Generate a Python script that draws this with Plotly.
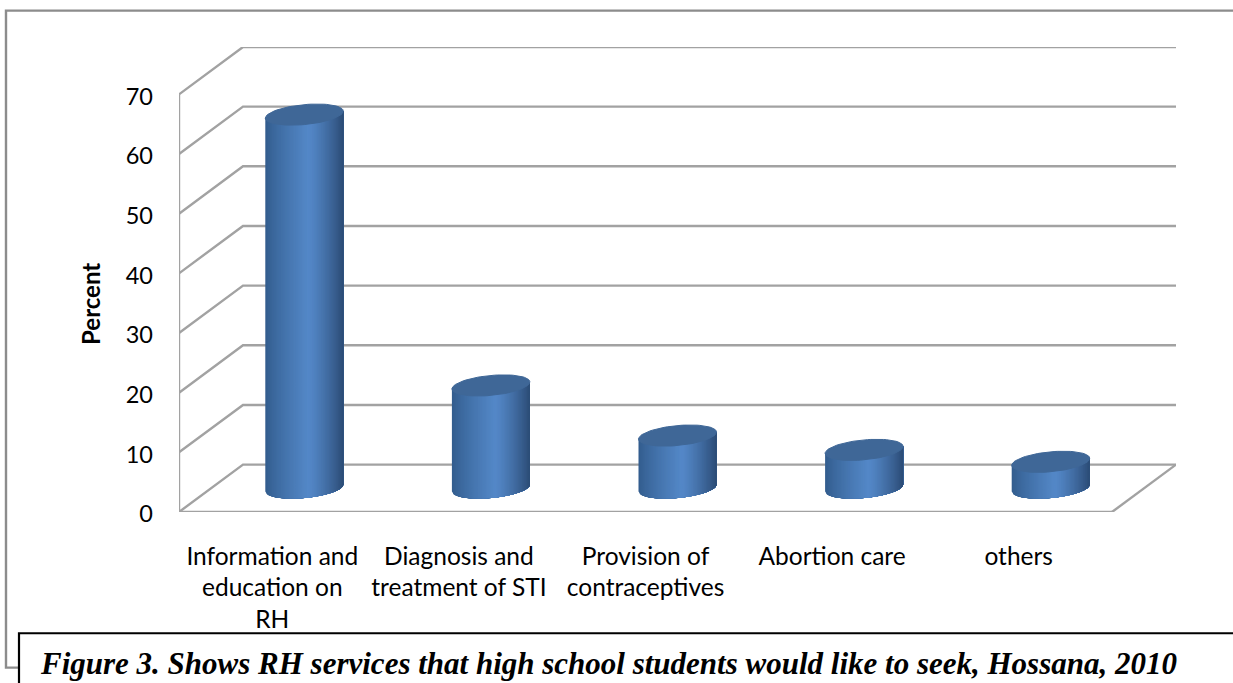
import plotly.graph_objects as go
import numpy as np

categories = ["Information and<br>education on<br>RH", "Diagnosis and<br>treatment of STI",
              "Provision of<br>contraceptives", "Abortion care", "others"]
values = [62.6, 17.2, 8.8, 6.4, 4.4]
y_ticks = [0, 10, 20, 30, 40, 50, 60, 70]
y_title = "Percent"
caption = "Figure 3. Shows RH services that high school students would like to seek, Hossana, 2010"

W, H = 1233, 683
L, R, T, B = 179, 1112, 94, 512.5
px_x = (R - L) / 5
px_y = (B - T) / 70
depth_x = 64 / px_x
depth_y = 47.5 / px_y
a = 39 / px_x
b = 10 / px_y
s = 3.5 / px_y
cx_off = 32 / px_x
base_y = 24 / px_y
GRAY = "#a2a2a2"
x_hi = 4.5 + depth_x
y_hi = 70 + depth_y
PR, PT = R + 64, T - 47.5

def paper(px, py):
    return (px - L) / (PR - L), (B - py) / (B - PT)

fig = go.Figure()

# 3D wall and floor
gx, gy = [], []
for t in y_ticks:
    gx += [-0.5, -0.5 + depth_x, x_hi, None]
    gy += [t, t + depth_y, t + depth_y, None]
gx += [4.5, x_hi, None, -0.5, 4.5, None, -0.5, -0.5, None]
gy += [0, depth_y, None, 0, 0, None, 0, 70, None]
fig.add_trace(go.Scatter(x=gx, y=gy, mode="lines", line=dict(color=GRAY, width=2.4),
                         cliponaxis=False, hoverinfo="skip", showlegend=False))

def lerp(c1, c2, f):
    return tuple(c1[i] + (c2[i] - c1[i]) * f for i in range(3))

def shade(u):
    left, mid, right = (50, 92, 140), (84, 136, 200), (44, 76, 118)
    if u < 0.55:
        c = lerp(left, mid, (u / 0.55) ** 0.8)
    else:
        c = lerp(mid, right, ((u - 0.55) / 0.45) ** 1.3)
    return "rgb(%d,%d,%d)" % c

# cylinder sides: painter's gradient, each band runs from its left edge to the right side
N = 60
edges = np.linspace(0, 1, N + 1)
for k in range(N):
    c0 = -1 + 2 * edges[k]
    xs, ys = [], []
    for i, v in enumerate(values):
        cx = i + cx_off
        tb = np.linspace(c0, 1, 40)
        bot = base_y - b * np.sqrt(np.clip(1 - tb ** 2, 0, 1)) + s * tb
        top = base_y + v + s * tb
        xs += list(cx + a * tb) + list(cx + a * tb[::-1]) + [None]
        ys += list(bot) + list(top[::-1]) + [None]
    col = shade(edges[k] + 0.5 / N)
    fig.add_trace(go.Scatter(x=xs, y=ys, mode="lines", fill="toself", fillcolor=col,
                             line=dict(color=col, width=0), cliponaxis=False,
                             hoverinfo="skip", showlegend=False))

# cylinder tops
th = np.linspace(0, 2 * np.pi, 73)
xs, ys = [], []
for i, v in enumerate(values):
    xs += list(i + cx_off + a * np.cos(th)) + [None]
    ys += list(base_y + v + b * np.sin(th) + s * np.cos(th)) + [None]
fig.add_trace(go.Scatter(x=xs, y=ys, mode="lines", fill="toself", fillcolor="#3f6797",
                         line=dict(color="#3f6797", width=1), cliponaxis=False,
                         hoverinfo="skip", showlegend=False))

FONT = "Lato"
fig.update_layout(
    width=W, height=H, autosize=False, paper_bgcolor="white", plot_bgcolor="rgba(0,0,0,0)",
    margin=dict(l=L, r=W - PR, t=PT, b=H - B), showlegend=False,
    xaxis=dict(range=[-0.5, x_hi], tickmode="array", tickvals=list(range(5)), ticktext=categories,
               showgrid=False, zeroline=False, showline=False,
               ticks="", ticklabelstandoff=27, tickangle=0,
               tickfont=dict(family=FONT, size=24.5, color="black")),
    yaxis=dict(range=[0, y_hi], tickmode="array", tickvals=y_ticks,
               showgrid=False, zeroline=False, showline=False,
               ticks="", ticklabelstandoff=25, ticklabelshift=2,
               tickfont=dict(family=FONT, size=23.5, color="black")),
)

x0, y0 = paper(6, 10)
x1, y1 = paper(W + 20, 668.5)
x2, _ = paper(20, 668.5)
x3, y3 = paper(19, 634)
x4, y4 = paper(W + 20, H + 20)
fig.update_layout(shapes=[
    dict(type="path", xref="paper", yref="paper", layer="below",
         path=f"M {x1} {y0} L {x0} {y0} L {x0} {y1} L {x2} {y1}",
         line=dict(color="#8c8c8c", width=2.4)),
    dict(type="rect", xref="paper", yref="paper", layer="above", x0=x3, y0=y4, x1=x4, y1=y3,
         fillcolor="white", line=dict(color="black", width=2.2)),
])
tx, ty = paper(38, 664)
fig.add_annotation(xref="paper", yref="paper", x=tx, y=ty, xanchor="left", yanchor="middle",
                   showarrow=False, text=caption,
                   font=dict(family="Liberation Serif", size=31, color="black", weight=700, style="italic"))
yx, yy = paper(91, 304)
fig.add_annotation(xref="paper", yref="paper", x=yx, y=yy, xanchor="center", yanchor="middle",
                   showarrow=False, text=y_title, textangle=-90,
                   font=dict(family=FONT, size=24, color="black", weight=700))

fig.write_html("out.html", config={"displayModeBar": False},
               post_script="document.body.style.margin='0';document.body.style.overflow='hidden';")
